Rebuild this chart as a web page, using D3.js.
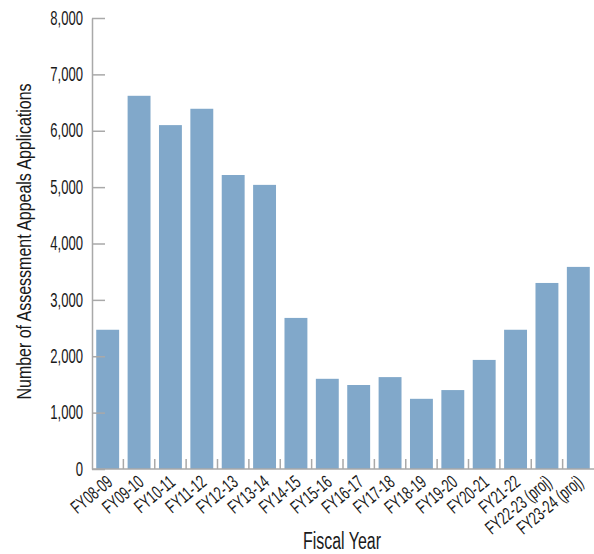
<!DOCTYPE html>
<html><head><meta charset="utf-8">
<script src="https://cdn.jsdelivr.net/npm/d3@7"></script>
<style>
html,body{margin:0;padding:0;background:#fff;}
text{font-family:"Liberation Sans",Arial,sans-serif;fill:#1a1a1a;}
</style></head>
<body>
<svg id="chart" width="594" height="554"></svg>
<script>
const categories = ["FY08-09","FY09-10","FY10-11","FY11-12","FY12-13","FY13-14","FY14-15","FY15-16","FY16-17","FY17-18","FY18-19","FY19-20","FY20-21","FY21-22","FY22-23 (proj)","FY23-24 (proj)"];
const values = [2470,6620,6100,6390,5215,5040,2680,1600,1490,1630,1245,1400,1935,2470,3300,3585];
const yTicks = [0,1000,2000,3000,4000,5000,6000,7000,8000];
const yTitle = "Number of Assessment Appeals Applications";
const xTitle = "Fiscal Year";

const svg = d3.select("#chart");
const mLeft = 92, mRight = 594, mTop = 18, mBottom = 469;
const sx = 0.67; // horizontal condensing of label glyphs
const x = d3.scaleBand().domain(categories).range([mLeft, mRight]).paddingInner(0.27).paddingOuter(0.135);
const y = d3.scaleLinear().domain([0, 8000]).range([mBottom, mTop]);
const axisColor = "#a9a9a9";

// bars
svg.append("g").selectAll("rect").data(values).join("rect")
  .attr("x", (d,i) => x(categories[i]))
  .attr("y", d => y(d))
  .attr("width", x.bandwidth())
  .attr("height", d => y(0) - y(d))
  .attr("fill", "#81a8ca");

// y axis
const yAxis = svg.append("g").attr("transform", `translate(${mLeft},0)`)
  .call(d3.axisLeft(y).tickValues(yTicks).tickSizeInner(-13).tickSizeOuter(0).tickPadding(9)
    .tickFormat(d3.format(",")));
yAxis.select(".domain").attr("stroke", axisColor).attr("stroke-width", 1.5);
yAxis.selectAll(".tick line").attr("stroke", axisColor).attr("stroke-width", 1.5);
yAxis.selectAll(".tick text").attr("font-size", 19.5).attr("fill", "#1a1a1a")
  .attr("font-family", null)
  .attr("x", -9 / sx).attr("transform", `scale(${sx},1)`);

// x axis
const step = x.step();
const xAxis = svg.append("g").attr("transform", `translate(0,${mBottom})`);
xAxis.append("line").attr("x1", mLeft).attr("x2", mRight).attr("y1", 0).attr("y2", 0)
  .attr("stroke", axisColor).attr("stroke-width", 1.5);
xAxis.selectAll("line.t").data(categories.slice(1)).join("line").attr("class", "t")
  .attr("x1", d => x(d) - (step - x.bandwidth())/2).attr("x2", d => x(d) - (step - x.bandwidth())/2)
  .attr("y1", 0).attr("y2", -10).attr("stroke", axisColor).attr("stroke-width", 1.5);
xAxis.selectAll("text").data(categories).join("text")
  .attr("transform", d => `translate(${x(d) + x.bandwidth()/2 + 6},15) rotate(-40) scale(${sx},1)`)
  .attr("text-anchor", "end")
  .attr("font-size", 18.5)
  .text(d => d);

// titles
svg.append("text").attr("transform", `translate(31,${(mTop+mBottom)/2 - 2}) rotate(-90)`)
  .attr("text-anchor", "middle").attr("font-size", 21)
  .attr("textLength", 316).attr("lengthAdjust", "spacingAndGlyphs")
  .text(yTitle);
svg.append("text").attr("x", 342).attr("y", 549)
  .attr("text-anchor", "middle").attr("font-size", 23)
  .attr("textLength", 78).attr("lengthAdjust", "spacingAndGlyphs")
  .text(xTitle);
</script>
</body></html>
